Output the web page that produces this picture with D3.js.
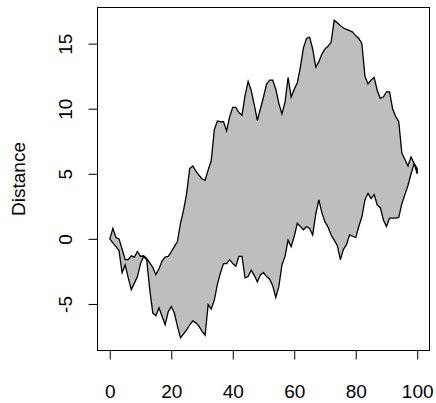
<!DOCTYPE html>
<html>
<head>
<meta charset="utf-8">
<script src="https://cdn.jsdelivr.net/npm/d3@7"></script>
<style>
  body { margin: 0; background: #fff; }
  svg { display: block; font-family: "Liberation Sans", Arial, sans-serif; }
</style>
</head>
<body>
<svg id="chart"></svg>
<script>
"use strict";

var Width = 436,
    Height = 403,
    plotLeft = 97.5,
    plotRight = 429.5,
    plotTop = 7.5,
    plotBottom = 350.5;

// step index of the two walks
var steps = d3.range(0, 101);

// upper walk
var upperWalk = [
    0, 0.8, 0.1, 0.0, -0.8, -1.6, -1.6, -1.3, -1.4, -0.97,
    -1.35, -1.3, -1.5, -1.85, -2.2, -2.75, -2.3, -1.7, -1.4, -1.35,
    -1.0, -0.6, -0.2, 1.2, 2.2, 3.5, 5.4, 5.6, 5.2, 4.9,
    4.6, 4.5, 5.3, 6.0, 8.4, 9.05, 9.0, 9.0, 8.3, 9.4,
    10.1, 10.1, 9.7, 9.5, 11.0, 12.1, 11.4, 10.3, 9.1, 10.0,
    10.9, 11.9, 12.2, 12.2, 11.5, 10.4, 9.6, 10.5, 12.4, 10.9,
    11.5, 12.0, 13.2, 14.7, 15.4, 15.5, 14.6, 13.2, 13.6, 14.2,
    14.6, 14.8, 15.1, 16.8, 16.6, 16.4, 16.2, 16.1, 16.0, 15.9,
    15.6, 15.4, 15.0, 12.5, 11.9, 12.2, 12.4, 11.4, 10.8, 10.9,
    11.3, 11.3, 10.0, 9.4, 9.0, 6.6, 6.1, 5.6, 6.3, 5.8,
    5.0
];

// lower walk
var lowerWalk = [
    0, -0.3, -0.6, -0.9, -2.6, -2.0, -3.0, -3.9, -3.4, -2.9,
    -1.9, -1.35, -1.6, -3.9, -5.7, -5.9, -5.3, -5.95, -6.6, -5.6,
    -5.2, -5.7, -6.7, -7.6, -7.3, -7.0, -6.6, -6.3, -6.45, -6.7,
    -7.1, -7.4, -5.05, -5.4, -4.7, -3.5, -2.6, -1.9, -1.9, -1.6,
    -1.9, -2.1, -1.35, -1.35, -3.0, -2.9, -2.4, -2.8, -3.3, -2.75,
    -2.6, -2.9, -3.1, -3.6, -4.5, -3.65, -2.0, -1.35, -0.1, -0.6,
    0.2, 1.2, 0.95, 0.7, 0.95, 0.8, 0.3, 1.9, 3.0, 2.0,
    1.3, 0.9, 0.3, -0.1, -0.5, -1.6, -0.8, -0.45, 0.3, 0.2,
    0.1, 0.95, 1.7, 3.0, 3.5, 3.1, 3.4, 2.6, 2.4, 1.45,
    0.95, 1.6, 1.6, 1.6, 1.65, 2.7, 3.4, 4.1, 5.0, 5.8,
    5.4
];

var xTicks = [0, 20, 40, 60, 80, 100],
    yTicks = [-5, 0, 5, 10, 15],
    yLabel = "Distance";

// R style 4% padding on both scales
function padded(ext) {
    var pad = (ext[1] - ext[0]) * 0.04;
    return [ext[0] - pad, ext[1] + pad];
}

var x = d3.scaleLinear()
    .domain(padded(d3.extent(steps)))
    .range([plotLeft, plotRight]);

var y = d3.scaleLinear()
    .domain(padded(d3.extent(upperWalk.concat(lowerWalk))))
    .range([plotBottom, plotTop]);

var svg = d3.select("#chart")
    .attr("width", Width)
    .attr("height", Height);

// polygon: upper walk forward, lower walk back
var poly = steps.map(function (d, i) { return [x(d), y(upperWalk[i])]; })
    .concat(steps.slice().reverse().map(function (d) { return [x(d), y(lowerWalk[d])]; }));

svg.append("path")
    .attr("d", "M" + poly.join("L") + "Z")
    .attr("fill", "#bebebe")
    .attr("stroke", "#000")
    .attr("stroke-width", 1.3)
    .attr("stroke-linejoin", "miter");

// box
svg.append("rect")
    .attr("x", plotLeft)
    .attr("y", plotTop)
    .attr("width", plotRight - plotLeft)
    .attr("height", plotBottom - plotTop)
    .attr("fill", "none")
    .attr("stroke", "#000")
    .attr("stroke-width", 1);

// plain hyphen for negatives, like R
var fmt = function (d) { return String(d); };

var xAxis = svg.append("g")
    .attr("transform", "translate(0," + plotBottom + ")")
    .call(d3.axisBottom(x).tickValues(xTicks).tickSize(9).tickFormat(fmt));

xAxis.select(".domain").remove();
xAxis.selectAll("line").attr("stroke", "#000");
xAxis.selectAll("text")
    .attr("y", 47.5)
    .attr("dy", 0)
    .attr("fill", "#000")
    .attr("font-size", 19)
    .attr("font-family", "Liberation Sans, Arial, sans-serif");

var yAxis = svg.append("g")
    .attr("transform", "translate(" + plotLeft + ",0)")
    .call(d3.axisLeft(y).tickValues(yTicks).tickSize(9).tickFormat(fmt));

yAxis.select(".domain").remove();
yAxis.selectAll("line").attr("stroke", "#000");
yAxis.selectAll("text")
    .attr("x", 0)
    .attr("dy", 0)
    .attr("text-anchor", "middle")
    .attr("transform", "translate(-25.5,0) rotate(-90)")
    .attr("fill", "#000")
    .attr("font-size", 19)
    .attr("font-family", "Liberation Sans, Arial, sans-serif");

svg.append("text")
    .attr("transform", "translate(25," + ((plotTop + plotBottom) / 2) + ") rotate(-90)")
    .attr("text-anchor", "middle")
    .attr("font-size", 19)
    .attr("fill", "#000")
    .text(yLabel);
</script>
</body>
</html>
